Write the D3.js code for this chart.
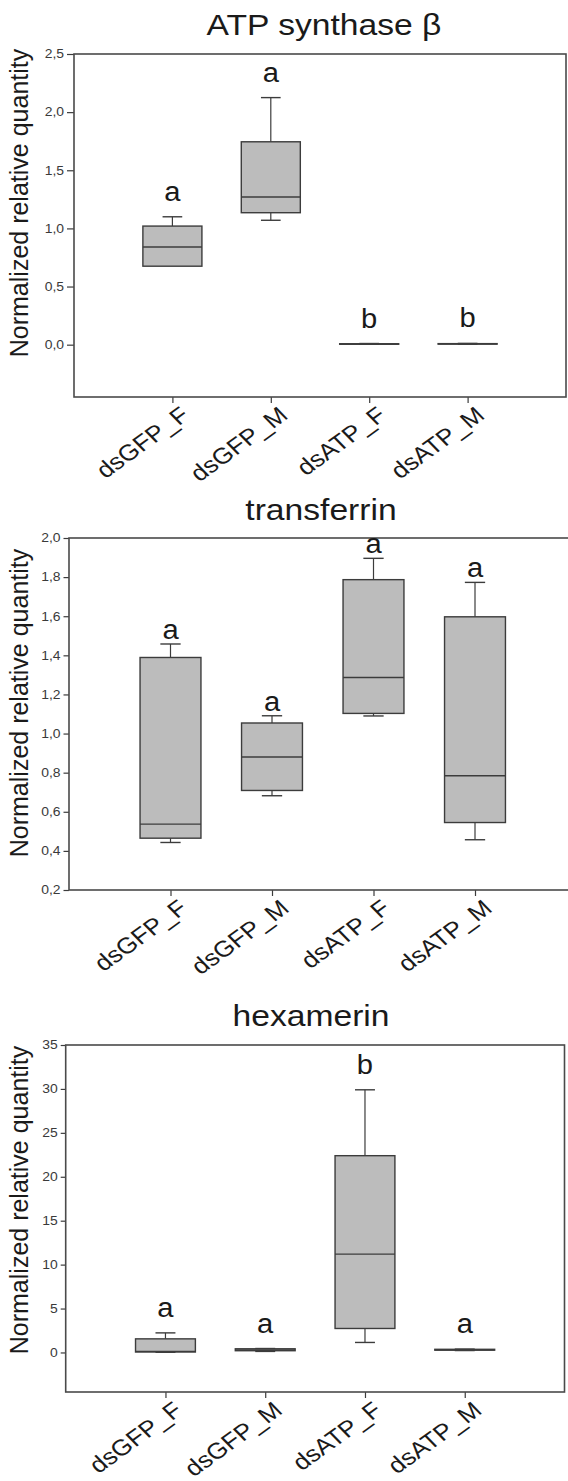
<!DOCTYPE html>
<html>
<head>
<meta charset="utf-8">
<script src="https://cdn.jsdelivr.net/npm/d3@7"></script>
<style>
  body { margin: 0; background: #fff; }
  text { font-family: "Liberation Sans", Arial, sans-serif; }
</style>
</head>
<body>
<div id="chart"></div>
<script>
var svgWidth = 568;
var svgHeight = 1481;

var groups = ["dsGFP_F", "dsGFP_M", "dsATP_F", "dsATP_M"];

// ATP synthase beta
var atpLow = [0.675, 1.07, 0.003, 0.004];
var atpQ1 = [0.675, 1.135, 0.004, 0.005];
var atpMed = [0.84, 1.27, 0.006, 0.007];
var atpQ3 = [1.02, 1.745, 0.008, 0.009];
var atpHigh = [1.10, 2.125, 0.010, 0.011];
var atpLetters = ["a", "a", "b", "b"];
var atpTicks = [0, 0.5, 1.0, 1.5, 2.0, 2.5];

// transferrin
var trfLow = [0.443, 0.682, 1.09, 0.457];
var trfQ1 = [0.465, 0.709, 1.103, 0.545];
var trfMed = [0.537, 0.88, 1.287, 0.784];
var trfQ3 = [1.389, 1.054, 1.787, 1.597];
var trfHigh = [1.458, 1.091, 1.896, 1.773];
var trfLetters = ["a", "a", "a", "a"];
var trfTicks = [0.2, 0.4, 0.6, 0.8, 1.0, 1.2, 1.4, 1.6, 1.8, 2.0];

// hexamerin
var hexLow = [0.02, 0.12, 1.14, 0.22];
var hexQ1 = [0.05, 0.2, 2.73, 0.26];
var hexMed = [0.12, 0.3, 11.2, 0.3];
var hexQ3 = [1.55, 0.42, 22.4, 0.36];
var hexHigh = [2.23, 0.45, 29.9, 0.38];
var hexLetters = ["a", "a", "b", "a"];
var hexTicks = [0, 5, 10, 15, 20, 25, 30, 35];

var commaFmt = function(d) { return d3.format(".1f")(d).replace(".", ","); };

var panels = [
  {title: "ATP synthase \u03b2", low: atpLow, q1: atpQ1, med: atpMed, q3: atpQ3, high: atpHigh,
   letters: atpLetters, ticks: atpTicks, domain: [-0.45, 2.5], fmt: commaFmt,
   left: 74, right: 566, top: 54, bottom: 397, titleX: 324, titleY: 35, labelY: 203,
   letterGap: 16, tickLen: 7},
  {title: "transferrin", low: trfLow, q1: trfQ1, med: trfMed, q3: trfQ3, high: trfHigh,
   letters: trfLetters, ticks: trfTicks, domain: [0.2, 2.0], fmt: commaFmt,
   left: 69, right: 576.5, top: 538, bottom: 890, titleX: 321, titleY: 520, labelY: 703,
   letterGap: 5, tickLen: 5.5},
  {title: "hexamerin", low: hexLow, q1: hexQ1, med: hexMed, q3: hexQ3, high: hexHigh,
   letters: hexLetters, ticks: hexTicks, domain: [-4.5, 35], fmt: d3.format("d"),
   left: 65.7, right: 564.5, top: 1045, bottom: 1392, titleX: 311, titleY: 1026, labelY: 1200,
   letterGap: 16, tickLen: 5}
];

// the source figure is a bit wider than tall, so the text is stretched sideways
var stretch = 1.16;

var svg = d3.select("#chart")
  .append("svg")
  .attr("width", svgWidth)
  .attr("height", svgHeight);

var lineColor = "#3c3c3c";

panels.forEach(function(p) {
  var g = svg.append("g");

  var y = d3.scaleLinear().domain(p.domain).range([p.bottom, p.top]);
  var x = d3.scalePoint().domain(groups).range([p.left, p.right]).padding(1);
  var boxW = x.step() * 0.6;
  var capW = boxW / 3;

  // title
  g.append("text")
    .attr("transform", "translate(" + p.titleX + "," + p.titleY + ") scale(" + stretch + ",1)")
    .attr("text-anchor", "middle")
    .style("font-size", "29px")
    .style("fill", "#1a1a1a")
    .text(p.title);

  // y label
  g.append("text")
    .attr("transform", "translate(28," + p.labelY + ") rotate(-90)")
    .attr("text-anchor", "middle")
    .style("font-size", "25px")
    .style("fill", "#1a1a1a")
    .text("Normalized relative quantity");

  // y axis
  var yAxis = g.append("g")
    .attr("transform", "translate(" + p.left + ",0)")
    .call(d3.axisLeft(y).tickValues(p.ticks).tickFormat(p.fmt).tickSize(p.tickLen).tickPadding(3));
  yAxis.select(".domain").remove();
  yAxis.selectAll("line").attr("stroke", lineColor).attr("stroke-width", 1.2);
  yAxis.selectAll("text")
    .style("font-size", "12px")
    .style("fill", "#3a3a3a")
    .each(function() {
      var t = d3.select(this);
      var tx = +t.attr("x");
      t.attr("x", 0).attr("transform", "translate(" + tx + ",0) scale(" + stretch + ",1)");
    });

  // x axis
  var xAxis = g.append("g")
    .attr("transform", "translate(0," + p.bottom + ")")
    .call(d3.axisBottom(x).tickSize(6));
  xAxis.select(".domain").remove();
  xAxis.selectAll("line").attr("stroke", lineColor).attr("stroke-width", 1.2);
  xAxis.selectAll("text")
    .attr("x", 0).attr("y", 0).attr("dy", "0.72em")
    .attr("text-anchor", "end")
    .attr("transform", "translate(6,8) scale(" + stretch + ",1) rotate(-40)")
    .style("font-size", "22.5px")
    .style("fill", "#1a1a1a");

  // frame
  g.append("rect")
    .attr("x", p.left)
    .attr("y", p.top)
    .attr("width", p.right - p.left)
    .attr("height", p.bottom - p.top)
    .attr("fill", "none")
    .attr("stroke", "#4a4a4a")
    .attr("stroke-width", 1.6);

  var rows = groups.map(function(name, i) {
    return {name: name, low: p.low[i], q1: p.q1[i], med: p.med[i], q3: p.q3[i], high: p.high[i], letter: p.letters[i]};
  });

  var boxes = g.selectAll(".box")
    .data(rows)
    .enter()
    .append("g")
    .attr("class", "box")
    .attr("transform", d => "translate(" + x(d.name) + ",0)");

  // upper whisker
  boxes.filter(d => d.high > d.q3).append("line")
    .attr("x1", 0).attr("x2", 0)
    .attr("y1", d => y(d.q3)).attr("y2", d => y(d.high))
    .attr("stroke", lineColor).attr("stroke-width", 1.2);
  boxes.filter(d => d.high > d.q3).append("line")
    .attr("x1", -capW / 2).attr("x2", capW / 2)
    .attr("y1", d => y(d.high)).attr("y2", d => y(d.high))
    .attr("stroke", lineColor).attr("stroke-width", 1.4);

  // lower whisker
  boxes.filter(d => d.low < d.q1).append("line")
    .attr("x1", 0).attr("x2", 0)
    .attr("y1", d => y(d.q1)).attr("y2", d => y(d.low))
    .attr("stroke", lineColor).attr("stroke-width", 1.2);
  boxes.filter(d => d.low < d.q1).append("line")
    .attr("x1", -capW / 2).attr("x2", capW / 2)
    .attr("y1", d => y(d.low)).attr("y2", d => y(d.low))
    .attr("stroke", lineColor).attr("stroke-width", 1.4);

  boxes.append("rect")
    .attr("x", -boxW / 2)
    .attr("width", boxW)
    .attr("y", d => y(d.q3))
    .attr("height", d => Math.max(0.5, y(d.q1) - y(d.q3)))
    .attr("fill", "#bcbcbc")
    .attr("stroke", lineColor)
    .attr("stroke-width", 1.4);

  boxes.append("line")
    .attr("x1", -boxW / 2).attr("x2", boxW / 2)
    .attr("y1", d => y(d.med)).attr("y2", d => y(d.med))
    .attr("stroke", lineColor).attr("stroke-width", 1.4);

  boxes.append("text")
    .attr("transform", d => "translate(0," + (y(d.high) - p.letterGap) + ") scale(1.08,1)")
    .attr("text-anchor", "middle")
    .style("font-size", "27px")
    .style("fill", "#1a1a1a")
    .text(d => d.letter);
});
</script>
</body>
</html>
